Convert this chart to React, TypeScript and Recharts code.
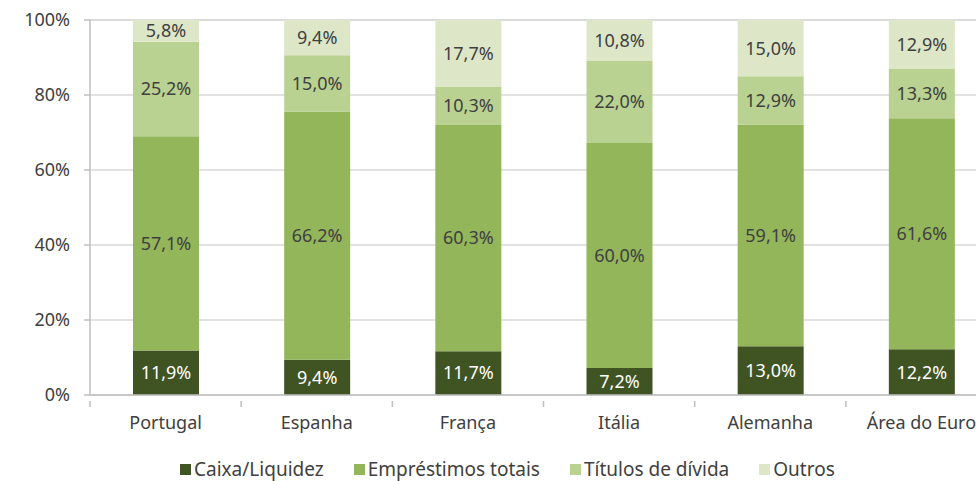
import { BarChart, Bar, XAxis, YAxis, CartesianGrid, Legend, LabelList } from "recharts";

const categories = ["Portugal", "Espanha", "França", "Itália", "Alemanha", "Área do Euro"];
const caixa = [11.9, 9.4, 11.7, 7.2, 13.0, 12.2];
const emprestimos = [57.1, 66.2, 60.3, 60.0, 59.1, 61.6];
const titulos = [25.2, 15.0, 10.3, 22.0, 12.9, 13.3];
const outros = [5.8, 9.4, 17.7, 10.8, 15.0, 12.9];
const seriesNames = ["Caixa/Liquidez", "Empréstimos totais", "Títulos de dívida", "Outros"];
const yTicks = [0, 20, 40, 60, 80, 100];

const data = categories.map((name, i) => ({
  name,
  caixa: caixa[i],
  emprestimos: emprestimos[i],
  titulos: titulos[i],
  outros: outros[i],
}));

const W = 1000;
const LEFT = 90;
const RIGHT = 3;
const step = (W - LEFT - RIGHT) / categories.length;
const font = "'Noto Sans', sans-serif";

const fmt = (v: any) => `${Number(v).toFixed(1).replace(".", ",")}%`;

function CatTick(props: any) {
  const { x, y, payload } = props;
  const bx = x - step / 2;
  return (
    <g>
      <line x1={bx} x2={bx} y1={y - 15} y2={y - 9} stroke="#bfbfbf" strokeWidth={1.5} />
      <text x={x} y={y} dy="0.71em" textAnchor="middle" fill="#404040" fontSize={18} fontFamily={font}>
        {payload.value}
      </text>
    </g>
  );
}

function LegendContent(props: any) {
  const items = [...(props.payload || [])].sort(
    (a: any, b: any) => seriesNames.indexOf(a.value) - seriesNames.indexOf(b.value)
  );
  return (
    <div
      style={{
        display: "flex",
        alignItems: "flex-end",
        height: 36,
        paddingBottom: 1,
        boxSizing: "border-box",
        fontFamily: font,
        fontSize: 19,
        lineHeight: "22px",
        color: "#404040",
        whiteSpace: "nowrap",
      }}
    >
      {items.map((p: any, i: number) => (
        <div key={i} style={{ display: "flex", alignItems: "center", marginRight: 30, height: 22 }}>
          <span style={{ width: 11, height: 11, background: p.color, display: "inline-block", marginRight: 3 }} />
          <span>{p.value}</span>
        </div>
      ))}
    </div>
  );
}

export default function App() {
  return (
    <div style={{ position: "fixed", left: 0, top: 0, width: 976, height: 481, overflow: "hidden", background: "#fff" }}>
      <BarChart
        width={W}
        height={481}
        data={data}
        margin={{ top: 20, right: RIGHT, left: 0, bottom: 0 }}
        barSize={66}
        style={{ fontFamily: font }}
      >
        <CartesianGrid vertical={false} stroke="#d9d9d9" strokeWidth={1.5} />
        <XAxis
          dataKey="name"
          height={50}
          interval={0}
          axisLine={{ stroke: "#bfbfbf", strokeWidth: 1.5 }}
          tickLine={false}
          tick={<CatTick />}
          tickMargin={15}
          tickSize={6}
        />
        <YAxis
          width={LEFT}
          domain={[0, 100]}
          ticks={yTicks}
          tickFormatter={(v) => `${v}%`}
          axisLine={{ stroke: "#bfbfbf", strokeWidth: 1.5 }}
          tickLine={{ stroke: "#bfbfbf", strokeWidth: 1.5 }}
          tickSize={6}
          tickMargin={14}
          tick={{ fill: "#404040", fontSize: 18 }}
        />
        <Legend
          verticalAlign="bottom"
          content={<LegendContent />}
          wrapperStyle={{ left: 180, bottom: 0, width: 760, height: 36 }}
        />
        <Bar dataKey="caixa" name={seriesNames[0]} stackId="a" fill="#405323" isAnimationActive={false}>
          <LabelList dataKey="caixa" position="center" formatter={fmt} fill="#ffffff" fontSize={18} />
        </Bar>
        <Bar dataKey="emprestimos" name={seriesNames[1]} stackId="a" fill="#93b65a" isAnimationActive={false}>
          <LabelList dataKey="emprestimos" position="center" formatter={fmt} fill="#404040" fontSize={18} />
        </Bar>
        <Bar dataKey="titulos" name={seriesNames[2]} stackId="a" fill="#b9d291" isAnimationActive={false}>
          <LabelList dataKey="titulos" position="center" formatter={fmt} fill="#404040" fontSize={18} />
        </Bar>
        <Bar dataKey="outros" name={seriesNames[3]} stackId="a" fill="#dde7c8" isAnimationActive={false}>
          <LabelList dataKey="outros" position="center" formatter={fmt} fill="#404040" fontSize={18} />
        </Bar>
      </BarChart>
    </div>
  );
}
